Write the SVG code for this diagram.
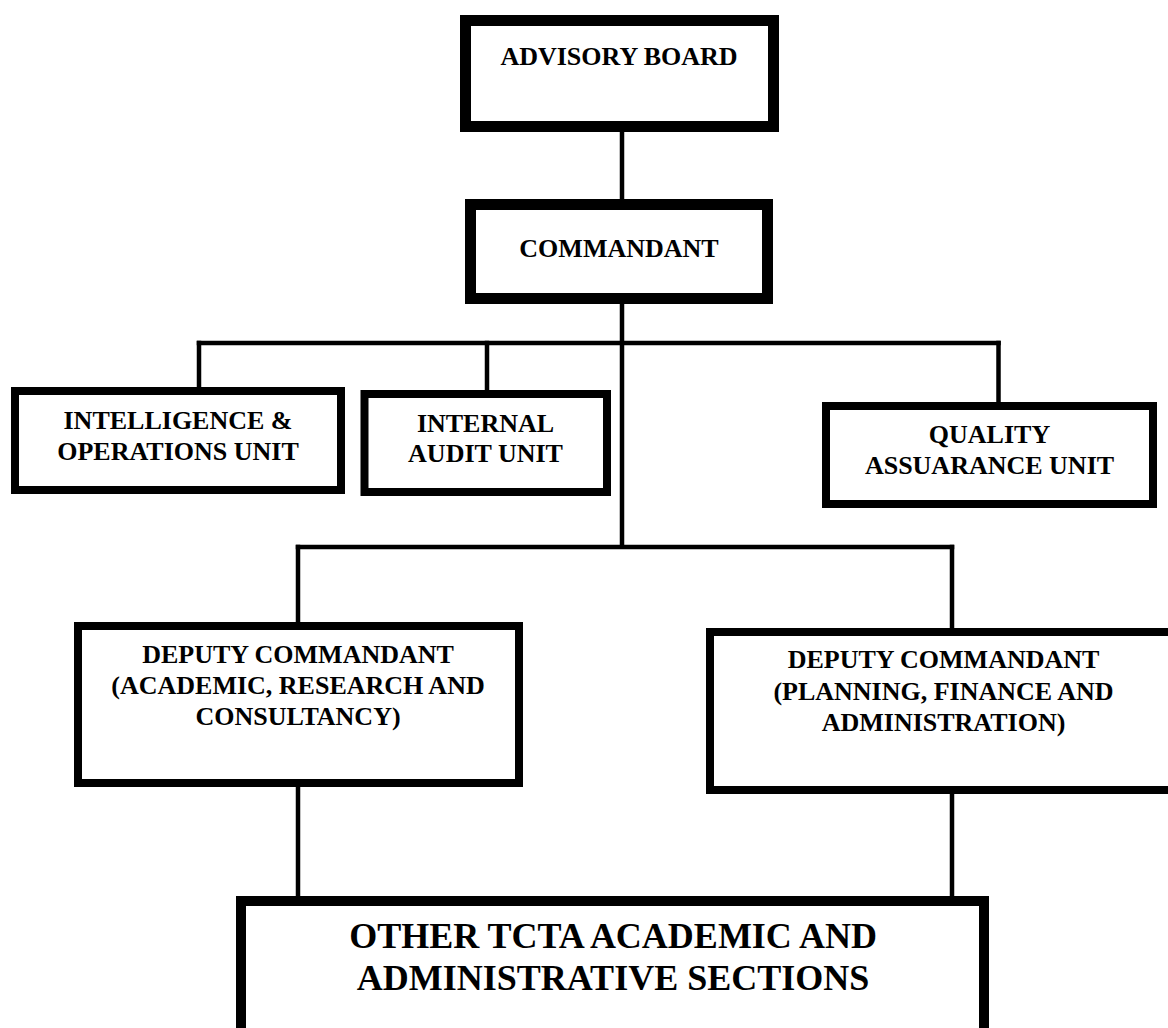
<svg xmlns="http://www.w3.org/2000/svg" width="1168" height="1028" viewBox="0 0 1168 1028">
<style>
.box{fill:#fff;stroke:#000}
.thick{stroke-width:11}
.mid{stroke-width:8}
.big{stroke-width:10}
.lbl{font-family:"Liberation Serif","Times New Roman",serif;font-weight:bold;font-size:26px;fill:#000;text-anchor:middle}
.lg{font-size:36px}
.conn line{stroke:#000;stroke-width:4.5;stroke-linecap:square}
</style>
<rect width="1168" height="1028" fill="#fff"/>
<g id="connectors" class="conn">
<line x1="622" y1="132" x2="622" y2="199"/>
<line x1="622" y1="304" x2="622" y2="543"/>
<line x1="199" y1="343" x2="998.5" y2="343"/>
<line x1="199" y1="343" x2="199" y2="387"/>
<line x1="487" y1="343" x2="487" y2="390"/>
<line x1="998.5" y1="343" x2="998.5" y2="402"/>
<line x1="298" y1="547" x2="952" y2="547"/>
<line x1="298" y1="547" x2="298" y2="622"/>
<line x1="952" y1="547" x2="952" y2="628"/>
<line x1="298" y1="787" x2="298" y2="896"/>
<line x1="952" y1="794" x2="952" y2="896"/>
</g>
<g id="advisory-board">
<rect class="box thick" x="465.5" y="20.5" width="308" height="106"/>
<text class="lbl" x="619" y="65">ADVISORY BOARD</text>
</g>
<g id="commandant">
<rect class="box thick" x="470.5" y="204.5" width="297" height="94"/>
<text class="lbl" x="619" y="257">COMMANDANT</text>
</g>
<g id="intelligence-operations">
<rect class="box mid" x="15" y="391" width="326" height="99"/>
<text class="lbl" x="178" y="429">INTELLIGENCE &amp;</text>
<text class="lbl" x="178" y="460">OPERATIONS UNIT</text>
</g>
<g id="internal-audit">
<rect class="box mid" x="364.5" y="394" width="242.5" height="98"/>
<text class="lbl" x="485.5" y="432">INTERNAL</text>
<text class="lbl" x="485.5" y="462">AUDIT UNIT</text>
</g>
<g id="quality-assurance">
<rect class="box mid" x="826" y="406" width="327" height="98"/>
<text class="lbl" x="989.5" y="443">QUALITY</text>
<text class="lbl" x="989.5" y="474">ASSUARANCE UNIT</text>
</g>
<g id="deputy-academic">
<rect class="box mid" x="78" y="626" width="441" height="157"/>
<text class="lbl" x="298" y="663">DEPUTY COMMANDANT</text>
<text class="lbl" x="298" y="694">(ACADEMIC, RESEARCH AND</text>
<text class="lbl" x="298" y="725">CONSULTANCY)</text>
</g>
<g id="deputy-planning">
<rect class="box mid" x="710" y="632" width="500" height="158"/>
<text class="lbl" x="943.5" y="668">DEPUTY COMMANDANT</text>
<text class="lbl" x="943.5" y="699.5">(PLANNING, FINANCE AND</text>
<text class="lbl" x="943.5" y="731">ADMINISTRATION)</text>
</g>
<g id="other-sections">
<rect class="box big" x="241" y="901" width="743" height="200"/>
<text class="lbl lg" x="613" y="948">OTHER TCTA ACADEMIC AND</text>
<text class="lbl lg" x="613" y="990">ADMINISTRATIVE SECTIONS</text>
</g>
</svg>
